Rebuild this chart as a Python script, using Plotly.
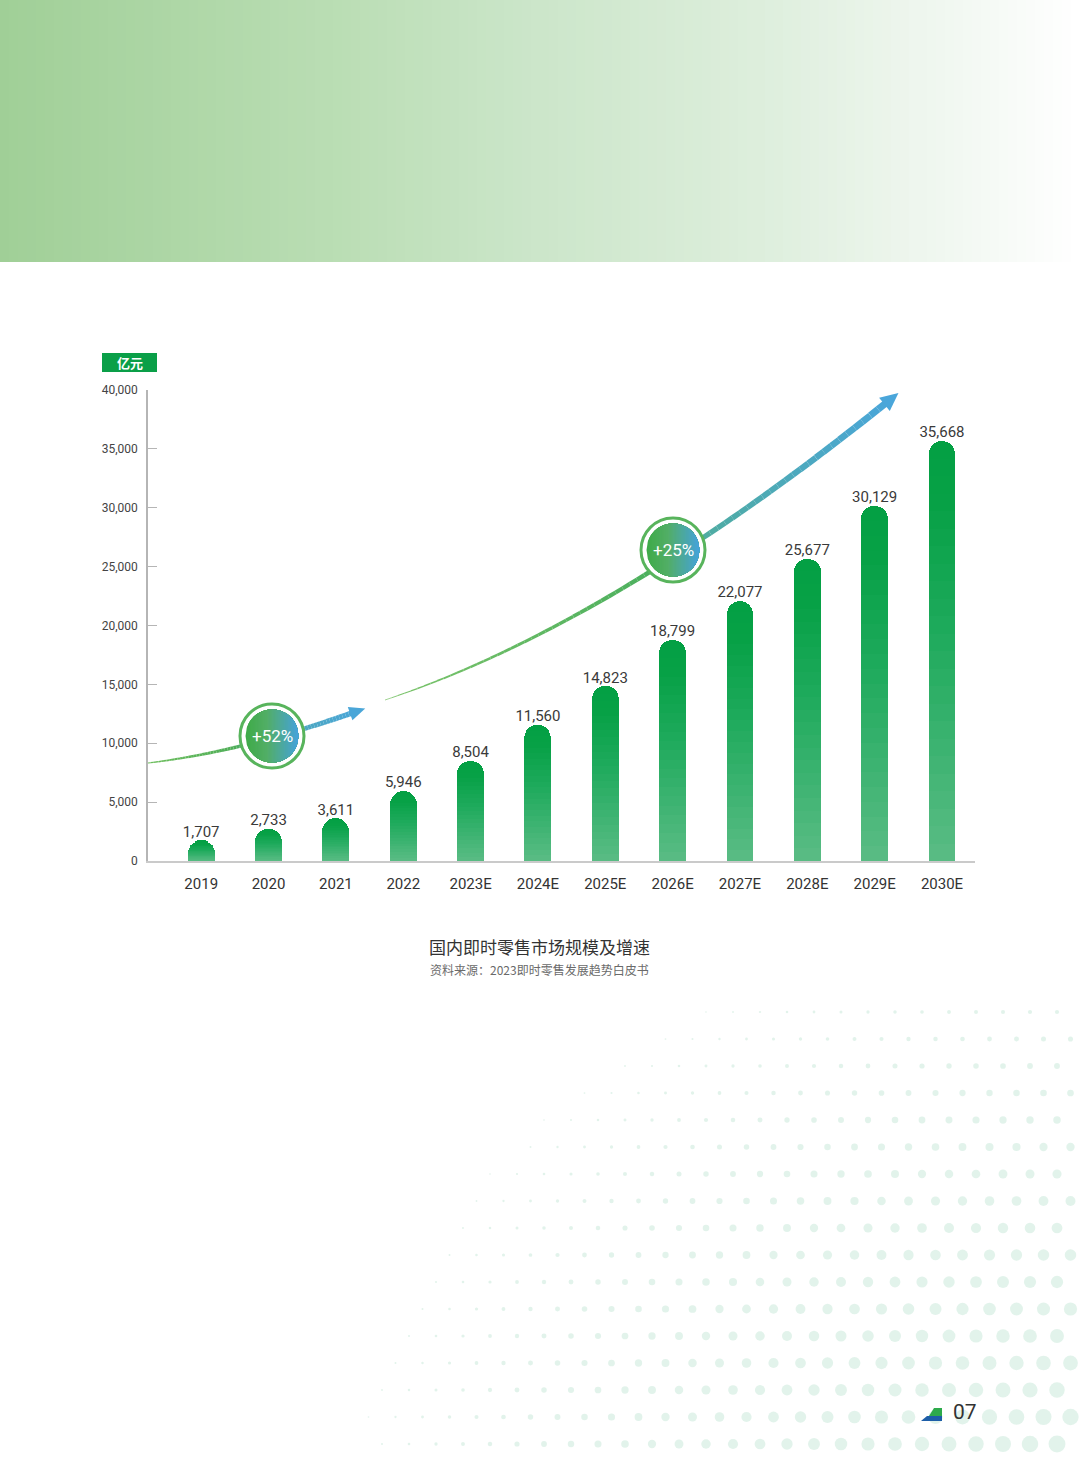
import numpy as np
import plotly.graph_objects as go

W, H = 1080, 1463

# ---------------- data ----------------
categories = ["2019", "2020", "2021", "2022", "2023E", "2024E", "2025E",
              "2026E", "2027E", "2028E", "2029E", "2030E"]
market_size = [1707, 2733, 3611, 5946, 8504, 11560, 14823, 18799,
               22077, 25677, 30129, 35668]
y_tick_vals = [0, 5000, 10000, 15000, 20000, 25000, 30000, 35000, 40000]
y_tick_text = ["0", "5,000", "10,000", "15,000", "20,000", "25,000",
               "30,000", "35,000", "40,000"]
growth_labels = ["+52%", "+25%"]
unit_label = "亿元"
chart_title = "国内即时零售市场规模及增速"
source_text = "资料来源：2023即时零售发展趋势白皮书"
page_number = "07"

CN = "Noto Sans CJK SC"
NUM = "Roboto"


def P(x, y):
    """pixel -> paper coordinates"""
    return x / W, 1 - y / H


def hex2rgb(h):
    h = h.lstrip("#")
    return np.array([int(h[i:i + 2], 16) for i in (0, 2, 4)], dtype=float)


def lerp_color(stops, t):
    for i in range(len(stops) - 1):
        t0, c0 = stops[i]
        t1, c1 = stops[i + 1]
        if t <= t1 or i == len(stops) - 2:
            f = 0 if t1 == t0 else min(max((t - t0) / (t1 - t0), 0), 1)
            c = hex2rgb(c0) + (hex2rgb(c1) - hex2rgb(c0)) * f
            return "rgb(%d,%d,%d)" % tuple(np.round(c).astype(int))


fig = go.Figure()
xs = list(range(len(categories)))
shapes = []
annotations = []


def ann(x, y, text, size, color, family):
    a = P(x, y)
    annotations.append(dict(x=a[0], y=a[1], xref="paper", yref="paper",
                            text=text, showarrow=False,
                            xanchor="center", yanchor="middle",
                            font=dict(family=family, size=size, color=color)))


# ---------------- header gradient band (overlapping strips, no gaps) ----------------
band_stops = [(0, "#A0CF97"), (0.3, "#B9DDB3"), (0.5, "#CCE6CA"),
              (0.7, "#DDEEDC"), (0.85, "#EEF6EE"), (1, "#FFFFFF")]
nb = 120
for i in range(nb):
    xa = W * i / nb
    x0, y0 = P(xa, 262)
    shapes.append(dict(type="rect", xref="paper", yref="paper",
                       x0=x0, y0=y0, x1=1.0, y1=1.0,
                       fillcolor=lerp_color(band_stops, (i + 0.5) / nb),
                       line=dict(width=0), layer="above"))

# ---------------- halftone decoration ----------------
hx, hy, hs = [], [], []
sp = 27
for j, yy in enumerate(np.arange(1012, H - 4, sp)):
    for xx in np.arange(4 + (j % 2) * sp / 2, W - 4, sp):
        d = np.hypot(xx - 1110, (yy - 1500) * 1.3)
        s = 19 * (1 - d / 820)
        if s > 1.5:
            hx.append(xx); hy.append(yy); hs.append(s)
fig.add_trace(go.Scatter(
    x=hx, y=hy, mode="markers",
    marker=dict(size=hs, color="#D5EEE3", line=dict(width=0)),
    hoverinfo="skip", showlegend=False, xaxis="x3", yaxis="y3"))

# ---------------- bars (stacked slices for vertical gradient) ----------------
N = 24
for k in range(N):
    t = (k + 0.5) / N
    col = lerp_color([(0, "#5ABC85"), (0.55, "#1EAA5C"), (0.85, "#07A146"), (1, "#04A044")], t)
    fig.add_trace(go.Bar(
        x=xs, y=[v / N for v in market_size], width=0.4,
        marker=dict(color=col, line=dict(width=0)),
        hoverinfo="skip", showlegend=False))

# value labels
fig.add_trace(go.Scatter(
    x=xs, y=market_size, mode="text",
    text=[f"{v:,}" for v in market_size], textposition="top center",
    textfont=dict(family=NUM, size=15, color="#3a3a3a"),
    cliponaxis=False, hoverinfo="skip", showlegend=False))


# ---------------- growth arrows ----------------
def bez(P0, P1, P2, t):
    P0, P1, P2 = map(np.array, (P0, P1, P2))
    return (1 - t) ** 2 * P0 + 2 * (1 - t) * t * P1 + t ** 2 * P2


def add_arrow(P0, P1, P2, w0, w1, stops, head_len, head_w, head_col, n=70):
    pts = [bez(P0, P1, P2, t) for t in np.linspace(0, 1, n + 1)]
    for i in range(n):
        t = (i + 0.5) / n
        w = w0 + (w1 - w0) * t ** 0.8
        a = P(*pts[i]); b = P(*pts[i + 1])
        shapes.append(dict(type="line", xref="paper", yref="paper",
                           x0=a[0], y0=a[1], x1=b[0], y1=b[1],
                           line=dict(color=lerp_color(stops, t), width=w),
                           layer="above"))
    end = np.array(P2, dtype=float)
    d = end - np.array(P1, dtype=float)
    d /= np.linalg.norm(d)
    perp = np.array([-d[1], d[0]])
    tip = end + d * head_len
    b1 = end - d * 2 + perp * head_w
    b2 = end - d * 2 - perp * head_w
    path = "M {} {} L {} {} L {} {} Z".format(*P(*tip), *P(*b1), *P(*b2))
    shapes.append(dict(type="path", xref="paper", yref="paper", path=path,
                       fillcolor=head_col, line=dict(width=0), layer="above"))


add_arrow((148, 763), (240, 752), (352, 713), 1.0, 5.5,
          [(0, "#6DBE5C"), (0.45, "#4FAE58"), (0.6, "#4FA9B0"), (1, "#4AA6D6")],
          14, 7, "#4AA6D8")
add_arrow((385, 700), (610, 625), (886, 403), 0.6, 7.0,
          [(0, "#7CC46A"), (0.55, "#4DB05E"), (0.65, "#4FACA0"), (1, "#4AA6D8")],
          16, 8.5, "#4AA6DA")


# ---------------- badges ----------------
def add_badge(cx, cy, text):
    R_out, R_in = 32, 26.5
    x0, y0 = P(cx - R_out, cy + R_out)
    x1, y1 = P(cx + R_out, cy - R_out)
    shapes.append(dict(type="circle", xref="paper", yref="paper",
                       x0=x0, y0=y0, x1=x1, y1=y1, fillcolor="white",
                       line=dict(color="#58B45C", width=3), layer="above"))
    ns = 40
    edges = np.linspace(cx - R_in, cx + R_in, ns + 1)
    for i in range(ns):
        xa = edges[i]
        top, bot = [], []
        for xx in np.linspace(xa, cx + R_in, max(3, int((cx + R_in - xa) / 1.5))):
            h = np.sqrt(max(R_in ** 2 - (xx - cx) ** 2, 0))
            top.append((xx, cy - h))
            bot.append((xx, cy + h))
        pts = top + bot[::-1]
        path = "M " + " L ".join("{} {}".format(*P(*p)) for p in pts) + " Z"
        col = lerp_color([(0, "#3EAB48"), (0.4, "#52AE66"), (1, "#45A2DC")], (i + 0.5) / ns)
        shapes.append(dict(type="path", xref="paper", yref="paper", path=path,
                           fillcolor=col, line=dict(width=0), layer="above"))
    ann(cx, cy, text, 17, "white", NUM)


add_badge(272, 736, growth_labels[0])
add_badge(673, 550, growth_labels[1])

# ---------------- unit tag ----------------
ux0, uy0 = P(102, 372)
ux1, uy1 = P(157, 353)
shapes.append(dict(type="rect", xref="paper", yref="paper",
                   x0=ux0, y0=uy0, x1=ux1, y1=uy1,
                   fillcolor="#0A9F48", line=dict(width=0), layer="above"))
ann(129.5, 362.5, "<b>" + unit_label + "</b>", 13, "white", CN)

# ---------------- caption ----------------
ann(539, 946, chart_title, 17, "#333333", CN)
ann(539, 969, source_text, 12, "#6a6a6a", CN)

# ---------------- page number ----------------
ann(965, 1412, page_number, 21, "#333333", NUM)
p1 = "M {} {} L {} {} L {} {} L {} {} Z".format(*P(921, 1421), *P(942, 1421), *P(942, 1416), *P(927, 1416))
p2 = "M {} {} L {} {} L {} {} L {} {} Z".format(*P(929, 1416), *P(942, 1416), *P(942, 1408), *P(934, 1408))
shapes.append(dict(type="path", xref="paper", yref="paper", path=p1,
                   fillcolor="#1D5EA8", line=dict(width=0), layer="above"))
shapes.append(dict(type="path", xref="paper", yref="paper", path=p2,
                   fillcolor="#2DAA4B", line=dict(width=0), layer="above"))

# ---------------- layout ----------------
fig.update_layout(
    width=W, height=H,
    margin=dict(l=0, r=0, t=0, b=0, pad=0, autoexpand=False),
    paper_bgcolor="white", plot_bgcolor="rgba(0,0,0,0)",
    barmode="stack", barcornerradius=13, bargap=0,
    showlegend=False,
    shapes=shapes, annotations=annotations,
    xaxis=dict(domain=[148 / W, 975 / W], range=[-0.79, 11.49],
               tickmode="array", tickvals=xs, ticktext=categories,
               showgrid=False, zeroline=False, ticks="",
               showline=True, linecolor="#CACACA", linewidth=2,
               tickfont=dict(family=NUM, size=15, color="#333333"),
               ticklabelstandoff=8, anchor="y", fixedrange=True,
               automargin=False),
    yaxis=dict(domain=[1 - 861 / H, 1 - 390 / H], range=[0, 40000],
               tickmode="array", tickvals=y_tick_vals, ticktext=y_tick_text,
               showgrid=False, zeroline=False,
               ticks="inside", ticklen=9, tickcolor="#B5B5B5", tickwidth=1,
               showline=True, linecolor="#B5B5B5", linewidth=1.5,
               tickfont=dict(family=NUM, size=12, color="#444444"),
               ticklabelstandoff=6, anchor="x", fixedrange=True,
               automargin=False),
    xaxis3=dict(domain=[0, 1], range=[0, W], visible=False, anchor="y3",
                automargin=False),
    yaxis3=dict(domain=[0, 1 - 1000 / H], range=[H, 1000], visible=False,
                anchor="x3", automargin=False),
)

fig.write_html("out.html", config={"displayModeBar": False})
